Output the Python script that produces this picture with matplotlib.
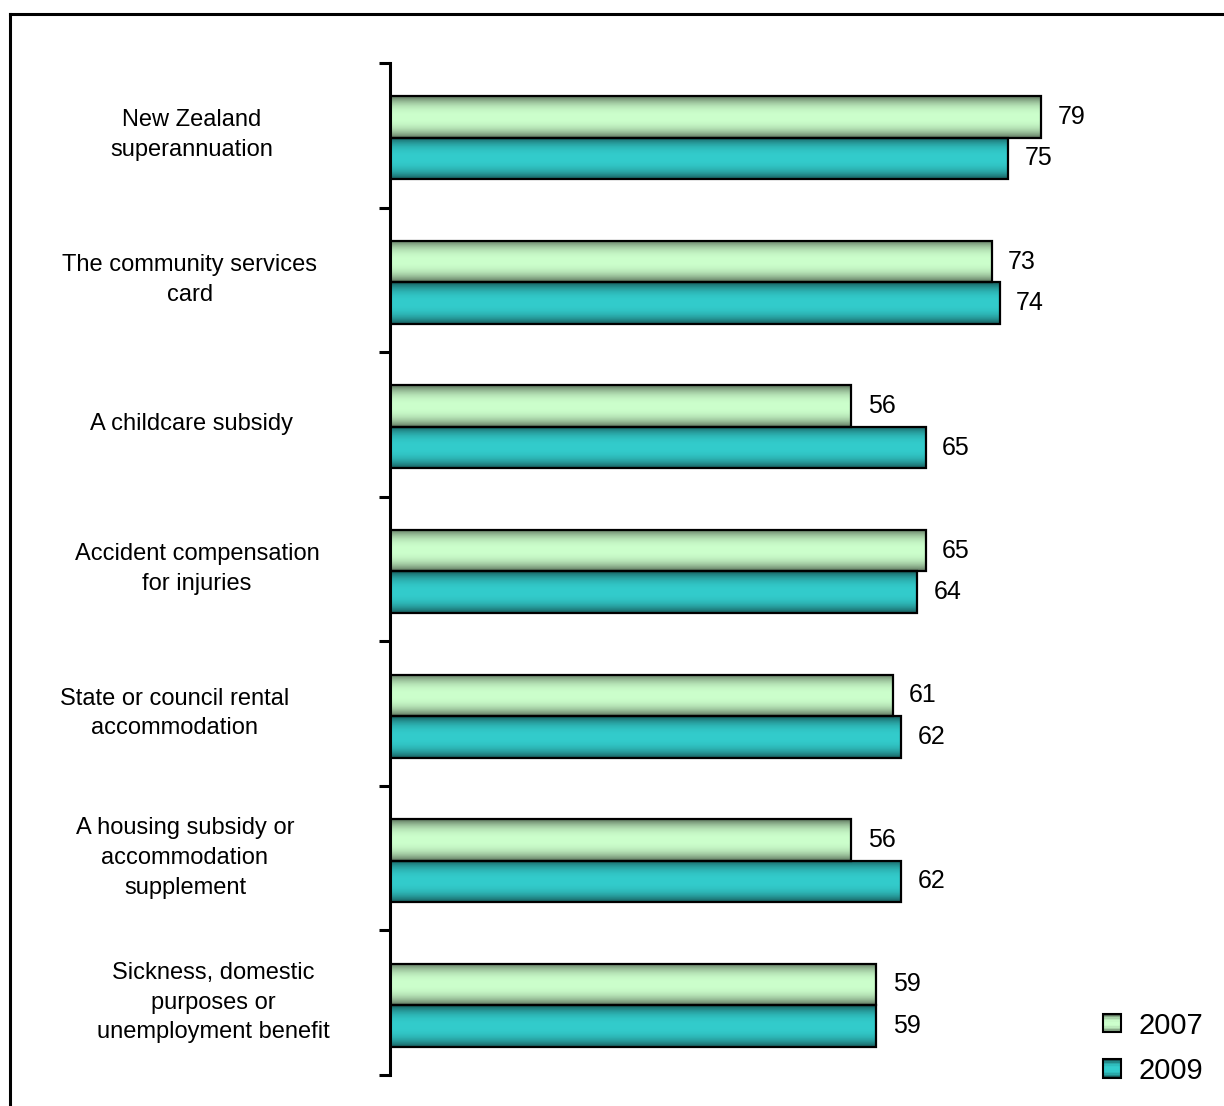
import matplotlib
matplotlib.use("Agg")
import matplotlib.pyplot as plt
import numpy as np
from matplotlib.colors import to_rgb
from matplotlib.legend_handler import HandlerBase
from matplotlib.lines import Line2D
from matplotlib.patches import Patch, Rectangle
from matplotlib.transforms import blended_transform_factory

plt.rcParams['font.family'] = ['Liberation Sans', 'DejaVu Sans']

categories = [
    "New Zealand\nsuperannuation",
    "The community services\ncard",
    "A childcare subsidy",
    "Accident compensation\nfor injuries",
    "State or council rental\naccommodation",
    "A housing subsidy or\naccommodation\nsupplement",
    "Sickness, domestic\npurposes or\nunemployment benefit",
]
years = ["2007", "2009"]
values_2007 = [79, 73, 56, 65, 61, 56, 59]
values_2009 = [75, 74, 65, 64, 62, 62, 59]

colors = {"2007": "#CCFFCC", "2009": "#33CCCC"}
# horizontal centre of each category label, in pixels
label_x_px = [192, 190, 191, 197, 175, 185, 213]

W, H = 1224, 1106
fig = plt.figure(figsize=(W / 100, H / 100), dpi=100)
ax = fig.add_axes([390 / W, 31 / H, 824 / W, 1012 / H])

bar_h = 0.287
group_shift = 0.017


def gradient_rows(color, n=64):
    light = np.array(to_rgb(color))
    dark = light * 0.45
    t = np.linspace(0, 1, n)
    mix = 1 - np.abs(2 * t - 1) ** 2.5
    return dark[None, :] * (1 - mix[:, None]) + light[None, :] * mix[:, None]


class GradientHandler(HandlerBase):
    # legend key drawn as horizontal stripes, same shading as the bars
    def create_artists(self, legend, orig_handle, xdescent, ydescent,
                       width, height, fontsize, trans):
        rows = gradient_rows(orig_handle.get_facecolor(), n=12)
        artists = []
        step = height / len(rows)
        for i, c in enumerate(rows):
            artists.append(Rectangle((-xdescent, -ydescent + i * step),
                                     width, step * 1.05, facecolor=c,
                                     edgecolor='none', transform=trans))
        artists.append(Rectangle((-xdescent, -ydescent), width, height,
                                 facecolor='none', edgecolor='black',
                                 linewidth=1.5, transform=trans))
        return artists


y = np.arange(len(categories))
for k, (year, vals) in enumerate(zip(years, [values_2007, values_2009])):
    offset = (k - 0.5) * bar_h + group_shift
    img = gradient_rows(colors[year])[:, None, :]
    for yi, v in zip(y, vals):
        top = yi + offset - bar_h / 2
        bottom = yi + offset + bar_h / 2
        ax.imshow(img, extent=(0, v, bottom, top), aspect='auto',
                  interpolation='bilinear', zorder=2)
        ax.barh(yi + offset, v, height=bar_h, facecolor='none',
                edgecolor='black', linewidth=1.6, zorder=3)
        ax.text(v + 2, yi + offset, str(v), va='center', ha='left',
                fontsize=18, zorder=4)

ax.set_xlim(0, 100)
ax.set_ylim(len(categories) - 0.5, -0.5)
ax.set_xticks([])
ax.set_yticks(np.arange(-0.5, len(categories), 1))
ax.set_yticklabels([])
ax.tick_params(axis='y', direction='out', length=8, width=2.2, color='black')
for side in ['top', 'right', 'bottom']:
    ax.spines[side].set_visible(False)
ax.spines['left'].set_linewidth(2.2)

label_trans = blended_transform_factory(fig.transFigure, ax.transData)
for yi, label, px in zip(y, categories, label_x_px):
    fig.text(px / W, yi, label, ha='center', va='center', fontsize=17,
             multialignment='center', linespacing=1.45,
             transform=label_trans)

handles = [Patch(facecolor=colors[yr]) for yr in years]
fig.legend(handles, years, loc='lower right',
           bbox_to_anchor=(1203 / W, 21 / H), frameon=False, fontsize=21,
           handlelength=0.6, handleheight=0.6, handletextpad=0.6,
           labelspacing=0.6, borderpad=0, borderaxespad=0,
           handler_map={Patch: GradientHandler()})

# outer frame (left and top edges visible)
fig.add_artist(Line2D([10 / W, 10 / W], [-0.01, 1 - 14 / H],
                      color='black', linewidth=2.2, transform=fig.transFigure))
fig.add_artist(Line2D([10 / W, 1.01], [1 - 14 / H, 1 - 14 / H],
                      color='black', linewidth=2.2, transform=fig.transFigure))

fig.savefig("out.png", dpi=100)
